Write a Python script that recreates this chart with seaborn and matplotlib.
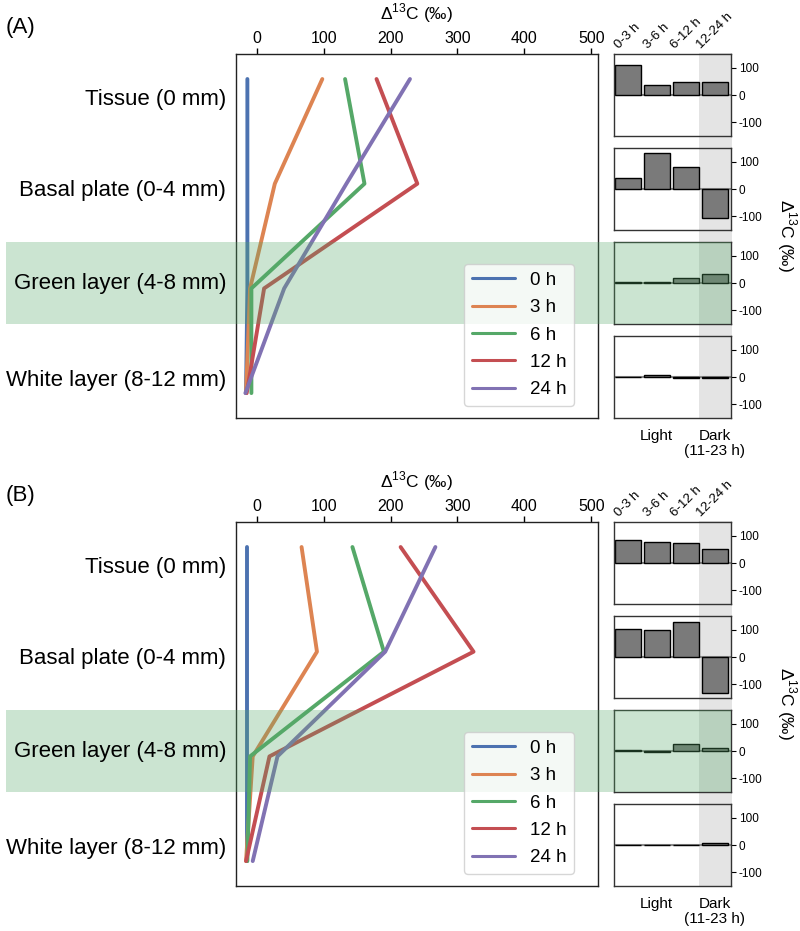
import matplotlib
matplotlib.use("Agg")
import matplotlib.pyplot as plt
from matplotlib.patches import Rectangle
import pandas as pd
import seaborn as sns

sns.set_theme(style="ticks", palette="deep")
plt.rcParams["font.family"] = ["Liberation Sans", "DejaVu Sans"]
plt.rcParams["mathtext.fontset"] = "custom"
plt.rcParams["mathtext.rm"] = "Liberation Sans"
plt.rcParams["axes.unicode_minus"] = False
for key in ["text.color", "axes.labelcolor", "xtick.color", "ytick.color"]:
    plt.rcParams[key] = "black"

layers = ["Tissue (0 mm)", "Basal plate (0-4 mm)",
          "Green layer (4-8 mm)", "White layer (8-12 mm)"]
times = ["0 h", "3 h", "6 h", "12 h", "24 h"]
intervals = ["0-3 h", "3-6 h", "6-12 h", "12-24 h"]

# (A) d13C per layer, top -> bottom
a_0h = [-14, -14, -14, -16]
a_3h = [98, 27, -10, -16]
a_6h = [132, 161, -8, -8]
a_12h = [179, 240, 11, -15]
a_24h = [229, 134, 41, -17]

# (B)
b_0h = [-15, -15, -15, -15]
b_3h = [67, 90, -6, -16]
b_6h = [143, 190, -10, -14]
b_12h = [215, 324, 19, -16]
b_24h = [267, 192, 31, -6]

# change per interval, one list per layer
a_bar_tissue = [110, 35, 48, 47]
a_bar_basal = [41, 133, 79, -106]
a_bar_green = [4, 3, 20, 32]
a_bar_white = [1, 7, -4, -2]

b_bar_tissue = [83, 77, 74, 51]
b_bar_basal = [101, 100, 129, -130]
b_bar_green = [5, -5, 27, 10]
b_bar_white = [1, 1, 0, 6]

W, H = 800, 931
pal = sns.color_palette("deep")[:5]
band_green = sns.color_palette("deep")[2]
dlabel = "Δ$^{13}$C (‰)"


def px_rect(x0, y0, x1, y1):
    return [x0 / W, 1 - y1 / H, (x1 - x0) / W, (y1 - y0) / H]


def draw_panel(fig, top, tag, series, bars):
    # profile lines
    rows = []
    for t, vals in zip(times, series):
        for i, v in enumerate(vals):
            rows.append({"pos": i, "d13C": v, "time": t})
    df = pd.DataFrame(rows)

    ax = fig.add_axes(px_rect(236, top, 598, top + 364))
    sns.lineplot(data=df, x="d13C", y="pos", hue="time", hue_order=times,
                 palette=pal, orient="y", estimator=None, linewidth=2.8, ax=ax)
    ax.set_xlim(-31, 510)
    ax.set_ylim(3.238, -0.239)
    ax.set_yticks([0.172, 1.04, 1.93, 2.856], layers, fontsize=16)
    ax.tick_params(axis="y", length=0, pad=7)
    ax.yaxis.set_zorder(4.5)
    ax.xaxis.tick_top()
    ax.xaxis.set_label_position("top")
    ax.set_xticks(range(0, 501, 100))
    ax.tick_params(axis="x", labelsize=11.5, length=4, width=1, pad=2)
    ax.set_xlabel(dlabel, fontsize=12.5, labelpad=8)
    ax.set_ylabel("")
    for s in ax.spines.values():
        s.set_linewidth(1)
        s.set_color("#222222")

    handles, labels = ax.get_legend_handles_labels()
    leg = ax.legend(handles, labels, loc="lower right", bbox_to_anchor=(0.934, 0.033),
                    borderaxespad=0, fontsize=13.5, handlelength=2.3,
                    labelspacing=0.55, frameon=True)
    for h in leg.get_lines():
        h.set_linewidth(2.2)
    leg.set_zorder(6)

    ax.axhspan(1.56, 2.34, xmin=(6 - 236) / 362, xmax=(614 - 236) / 362,
               color=band_green, alpha=0.3, lw=0, clip_on=False, zorder=4)

    fig.text(6 / W, 1 - (top - 27) / H, tag, fontsize=16, va="center", ha="left")

    # dark period shading behind the bar panels
    fig.add_artist(Rectangle((699 / W, 1 - (top + 364) / H), (732 - 699) / W, 365 / H,
                             transform=fig.transFigure, color="#e4e4e4", lw=0, zorder=-1))

    for k, vals in enumerate(bars):
        y0 = top + 94 * k
        bx = fig.add_axes(px_rect(614, y0, 731, y0 + 82))
        bx.set_facecolor("none")
        sns.barplot(x=intervals, y=vals, color="#7a7a7a", edgecolor="black",
                    linewidth=1, width=0.9, saturation=1, ax=bx, zorder=2)
        bx.axhline(0, color="#8a8a8a", lw=1.5, zorder=1)
        bx.set_ylim(-150, 150)
        bx.set_xlim(-0.47, 3.55)
        bx.yaxis.tick_right()
        bx.set_yticks([100, 0, -100])
        bx.tick_params(axis="y", labelsize=8.5, length=3.5, width=0.8, pad=2)
        bx.set_xlabel("")
        bx.set_ylabel("")
        for s in bx.spines.values():
            s.set_linewidth(1)
            s.set_color("#333333")
        if k == 0:
            bx.xaxis.tick_top()
            bx.set_xticks(range(4), intervals, rotation=45, fontsize=9.5)
            bx.tick_params(axis="x", length=0, pad=2)
        elif k == 3:
            bx.set_xticks(range(4), ["", "Light", "", "Dark\n(11-23 h)"],
                          fontsize=11, linespacing=1.1)
            bx.tick_params(axis="x", length=0, pad=8)
        else:
            bx.set_xticks([])
        if k == 2:
            bx.axhspan(-150, 150, color=band_green, alpha=0.3, lw=0, zorder=5)

    fig.text(787 / W, 1 - (top + 182) / H, dlabel, rotation=270,
             va="center", ha="center", fontsize=12.5)


fig = plt.figure(figsize=(8, 9.31), dpi=100)
draw_panel(fig, 54, "(A)", [a_0h, a_3h, a_6h, a_12h, a_24h],
           [a_bar_tissue, a_bar_basal, a_bar_green, a_bar_white])
draw_panel(fig, 522, "(B)", [b_0h, b_3h, b_6h, b_12h, b_24h],
           [b_bar_tissue, b_bar_basal, b_bar_green, b_bar_white])
fig.savefig("out.png", dpi=100)
